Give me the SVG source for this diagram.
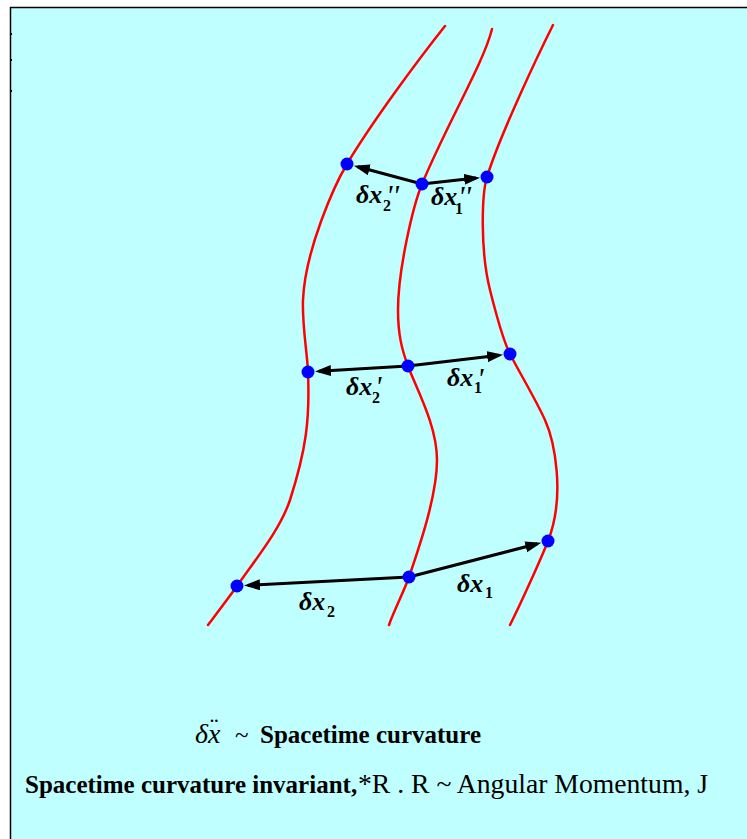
<svg xmlns="http://www.w3.org/2000/svg" width="747" height="839" viewBox="0 0 747 839">
<style>
.bg{fill:#C0FFFF}
.frame{stroke:#000;stroke-width:1.5;fill:none}
.curve{fill:none;stroke:#FF0000;stroke-width:2.5;stroke-linecap:round}
.dot{fill:#0000FF}
.arr{stroke:#000;stroke-width:3;fill:none;marker-end:url(#ah)}
.v{font-family:"Liberation Serif",serif;font-style:italic;font-weight:bold;font-size:26px;fill:#000}
.s{font-family:"Liberation Serif",serif;font-weight:bold;font-size:16px;fill:#000}
.p{font-family:"Liberation Serif",serif;font-style:italic;font-size:30px;fill:#000}
.t{font-family:"Liberation Serif",serif;font-size:25px;fill:#000}
.b{font-weight:bold}
.i{font-style:italic}
</style>
<defs>
<marker id="ah" markerUnits="userSpaceOnUse" markerWidth="17" markerHeight="12" refX="12" refY="5.5" orient="auto">
<path d="M0,0 L16,5.5 L0,11 z" fill="#000"/>
</marker>
</defs>
<rect class="bg" x="10" y="7" width="737" height="832"/>
<path class="frame" d="M10.5,839 V7.5 H747"/>
<path d="M10,34 h2 M10,60 h2 M10,91 h2" stroke="#000" stroke-width="2"/>

<g id="geodesics">
<path class="curve" d="M445,26 C418,60 372,122 347,164 C335,184 305,250 303,300 C302,325 307,350 308,372 C310,420 306,450 290,500 C280,530 255,560 237,586 C230,596 214,617 208,625"/>
<path class="curve" d="M492,29 C484,62 448,122 422,184 C413,206 398,270 398,310 C398,335 402,350 408,366 C416,388 437,425 437,460 C437,495 420,545 409,577 C404.6,589.8 393,613 389,625"/>
<path class="curve" d="M553,25 C538,55 500,135 487,177 C481.8,193.8 480,250 490,290 C495,310 502,338 510,354 C518,370 535,398 545,420 C554,440 566,495 548,541 C541,559 520,605 510,625"/>
</g>

<g id="connectors">
<line class="arr" x1="422" y1="184" x2="357.7" y2="166.8"/>
<line class="arr" x1="422" y1="184" x2="476.1" y2="178.1"/>
<line class="arr" x1="408" y1="366" x2="319" y2="371.3"/>
<line class="arr" x1="408" y1="366" x2="499.1" y2="355.3"/>
<line class="arr" x1="409" y1="577" x2="248" y2="585.4"/>
<line class="arr" x1="409" y1="577" x2="537.4" y2="543.8"/>
</g>

<g id="p-top-left"><circle class="dot" cx="347" cy="164" r="6.5"/></g>
<g id="p-top-mid"><circle class="dot" cx="422" cy="184" r="6.5"/></g>
<g id="p-top-right"><circle class="dot" cx="487" cy="177" r="6.5"/></g>
<g id="p-mid-left"><circle class="dot" cx="308" cy="372" r="6.5"/></g>
<g id="p-mid-mid"><circle class="dot" cx="408" cy="366" r="6.5"/></g>
<g id="p-mid-right"><circle class="dot" cx="510" cy="354" r="6.5"/></g>
<g id="p-bot-left"><circle class="dot" cx="237" cy="586" r="6.5"/></g>
<g id="p-bot-mid"><circle class="dot" cx="409" cy="577" r="6.5"/></g>
<g id="p-bot-right"><circle class="dot" cx="548" cy="541" r="6.5"/></g>

<g id="label-dx2pp"><text class="v" x="356" y="203">δx</text><text class="s" x="383" y="211">2</text><text class="p" x="386" y="205">''</text></g>
<g id="label-dx1pp"><text class="v" x="431" y="205">δx</text><text class="s" x="455" y="214">1</text><text class="p" x="458" y="206">''</text></g>
<g id="label-dx2p"><text class="v" x="346" y="395">δx</text><text class="s" x="372" y="403">2</text><text class="p" x="375" y="396">'</text></g>
<g id="label-dx1p"><text class="v" x="447" y="386">δx</text><text class="s" x="474" y="393">1</text><text class="p" x="477" y="388">'</text></g>
<g id="label-dx2"><text class="v" x="299" y="610">δx</text><text class="s" x="327" y="617">2</text></g>
<g id="label-dx1"><text class="v" x="457" y="592">δx</text><text class="s" x="485" y="598">1</text></g>

<g id="caption1">
<text class="t i" x="195" y="743" style="font-size:28px">δx</text>
<text class="t" x="210" y="736">¨</text>
<text class="t" x="235" y="743">~</text>
<text class="t b" x="260" y="743">Spacetime curvature</text>
</g>
<g id="caption2">
<text class="t b" x="25" y="793">Spacetime curvature invariant,</text>
<text class="t" x="358" y="793" style="font-size:27px" textLength="350" lengthAdjust="spacingAndGlyphs">*R . R ~ Angular Momentum, J</text>
</g>
</svg>
